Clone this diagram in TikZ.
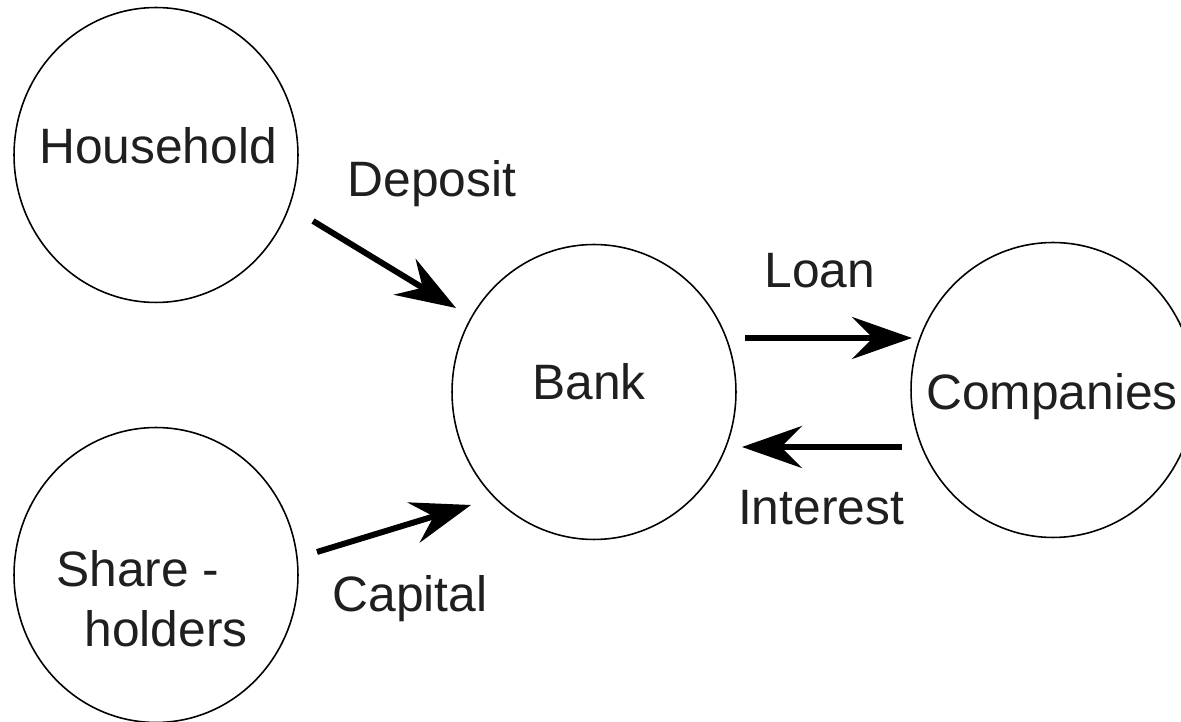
\documentclass[tikz,border=0pt]{standalone}
\usepackage{fontspec}
\setmainfont{Liberation Sans}
\usetikzlibrary{shapes.geometric,arrows.meta}
\tikzset{
  ent/.style={draw=black, line width=0.9pt, ellipse, minimum width=5.68cm, minimum height=5.9cm, inner sep=0pt},
  lbl/.style={anchor=base, inner sep=0pt, font=\fontsize{28.3}{34}\selectfont, text=black!88},
  flow/.style={line width=3.4pt, -{Stealth[length=1.2cm, width=0.84cm, inset=0.42cm]}},
}
\begin{document}
\begin{tikzpicture}[x=0.02cm, y=-0.02cm]
\useasboundingbox (0,0) rectangle (1181,722);
\clip (0,0) rectangle (1181,722);
% entities
\node[ent] (hh) at (156,155) {};
\node[ent] (sh) at (156,575) {};
\node[ent] (bank) at (594,392) {};
\node[ent] (co) at (1053,390) {};
% entity texts
\node[lbl] (hht) at (158,164) {Household};
\node[lbl] (sht1) at (138,587) {Share -};
\node[lbl] (sht2) at (166,647) {holders};
\node[lbl] (bankt) at (589,400) {Bank};
\node[lbl] (cot) at (1052,410) {Companies};
% flow labels
\node[lbl] (dep) at (432,197) {Deposit};
\node[lbl] (cap) at (410,612) {Capital};
\node[lbl] (loan) at (820,288) {Loan};
\node[lbl] (int) at (821,525) {Interest};
% arrow ends
\coordinate (deps) at (313,221);
\coordinate (depe) at (456,308);
\coordinate (caps) at (317,552);
\coordinate (cape) at (471,505);
\coordinate (loans) at (745,338);
\coordinate (loane) at (912,338);
\coordinate (ints) at (902,447);
\coordinate (inte) at (742,447);
\draw[flow] (deps) -- (depe);
\draw[flow] (caps) -- (cape);
\draw[flow] (loans) -- (loane);
\draw[flow] (ints) -- (inte);
\end{tikzpicture}
\end{document}
